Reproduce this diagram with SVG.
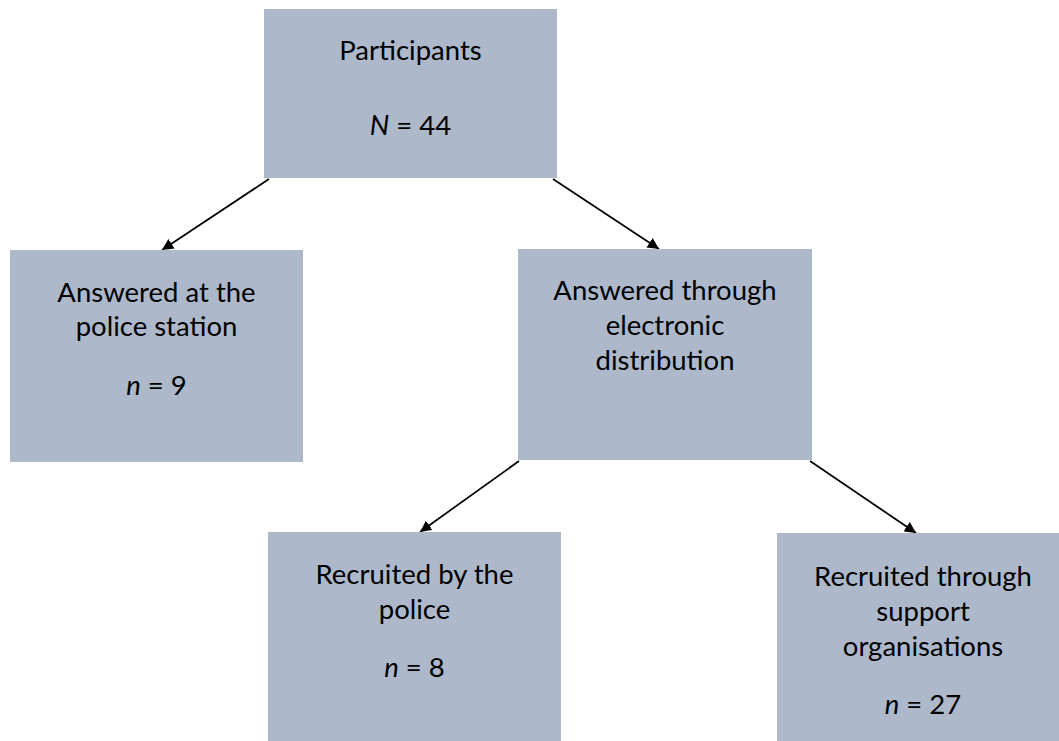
<svg xmlns="http://www.w3.org/2000/svg" width="1059" height="741" viewBox="0 0 1059 741">
<defs>
<style>
.box{fill:#ADB9CA;}
.t{font-family:Lato,"Liberation Sans",sans-serif;font-size:27.5px;fill:#000;text-anchor:middle;}
.i{font-style:italic;}
.c{stroke:#000;stroke-width:1.75;fill:none;marker-end:url(#ah);}
</style>
<marker id="ah" viewBox="0 0 10 10" refX="10" refY="5" markerWidth="6.5" markerHeight="6.5" markerUnits="strokeWidth" orient="auto">
<path d="M0,0 L10,5 L0,10 z" fill="#000"/>
</marker>
</defs>
<rect width="1059" height="741" fill="#fff"/>
<g id="connectors">
<line class="c" x1="269" y1="179" x2="162" y2="250"/>
<line class="c" x1="553" y1="179" x2="659" y2="249"/>
<line class="c" x1="519" y1="461" x2="420" y2="532"/>
<line class="c" x1="810" y1="461" x2="916" y2="533"/>
</g>
<g id="participants">
<rect class="box" x="264" y="9" width="293" height="169"/>
<text class="t" x="410.5" y="60">Participants</text>
<text class="t" x="410.5" y="135"><tspan class="i">N</tspan> = 44</text>
</g>
<g id="police-station">
<rect class="box" x="10" y="250" width="293" height="212"/>
<text class="t" x="156.5" y="302">Answered at the</text>
<text class="t" x="156.5" y="336">police station</text>
<text class="t" x="156.5" y="395"><tspan class="i">n</tspan> = 9</text>
</g>
<g id="electronic">
<rect class="box" x="518" y="249" width="294" height="211"/>
<text class="t" x="665" y="300">Answered through</text>
<text class="t" x="665" y="335">electronic</text>
<text class="t" x="665" y="370">distribution</text>
</g>
<g id="recruited-police">
<rect class="box" x="268" y="532" width="293" height="209"/>
<text class="t" x="414.5" y="584">Recruited by the</text>
<text class="t" x="414.5" y="619">police</text>
<text class="t" x="414.5" y="677"><tspan class="i">n</tspan> = 8</text>
</g>
<g id="recruited-support">
<rect class="box" x="777" y="533" width="292" height="208"/>
<text class="t" x="923" y="586">Recruited through</text>
<text class="t" x="923" y="621">support</text>
<text class="t" x="923" y="656">organisations</text>
<text class="t" x="923" y="714"><tspan class="i">n</tspan> = 27</text>
</g>
</svg>
